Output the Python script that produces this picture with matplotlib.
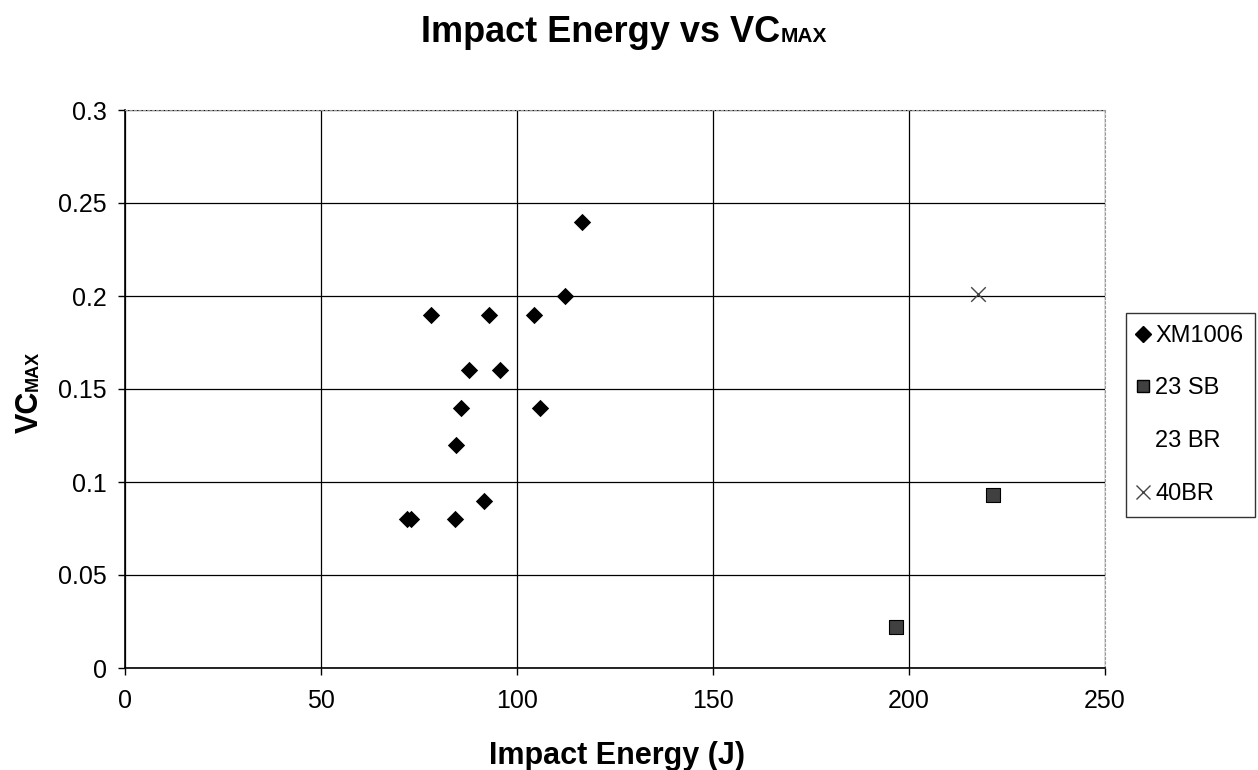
import matplotlib
matplotlib.use("Agg")
import matplotlib.pyplot as plt
from matplotlib.lines import Line2D

# ---- data ----
xm1006_x = [116.6, 112.2, 78.1, 92.9, 104.3, 87.8, 95.7, 85.7, 105.9, 84.4, 91.6, 72.0, 73.0, 84.2]
xm1006_y = [0.240, 0.200, 0.190, 0.190, 0.190, 0.160, 0.160, 0.140, 0.140, 0.120, 0.090, 0.080, 0.080, 0.080]
sb23_x = [196.7, 221.4]
sb23_y = [0.022, 0.093]
br23_x = []
br23_y = []
br40_x = [217.6]
br40_y = [0.201]
x_ticks = [0, 50, 100, 150, 200, 250]
y_ticks = [0, 0.05, 0.1, 0.15, 0.2, 0.25, 0.3]
y_tick_labels = ["0", "0.05", "0.1", "0.15", "0.2", "0.25", "0.3"]

FONT = "Liberation Sans"
plt.rcParams['font.family'] = [FONT, 'DejaVu Sans']

W, H = 1258, 770
fig = plt.figure(figsize=(W / 100, H / 100), dpi=100)
ax = fig.add_axes([125 / W, 1 - 668 / H, 980 / W, 558 / H])

ax.scatter(xm1006_x, xm1006_y, marker='D', s=78, color='black', zorder=3, linewidths=0)
ax.scatter(sb23_x, sb23_y, marker='s', s=105, color='#404040', edgecolors='black', linewidths=0.8, zorder=3)
ax.scatter(br23_x, br23_y, marker='^', s=80, color='white', zorder=3)
ax.scatter(br40_x, br40_y, marker='x', s=110, color='#444444', linewidths=1.0, zorder=3)

ax.set_xlim(0, 250)
ax.set_ylim(0, 0.3)
ax.set_xticks(x_ticks)
ax.set_xticklabels([str(t) for t in x_ticks], fontsize=18)
ax.set_yticks(y_ticks)
ax.set_yticklabels(y_tick_labels, fontsize=18)
ax.tick_params(axis='both', direction='out', length=5, width=1, color='black')
ax.tick_params(axis='x', pad=10)
ax.tick_params(axis='y', pad=8)
ax.grid(True, color='black', linewidth=0.9)
ax.set_axisbelow(True)
for s in ['left', 'bottom']:
    ax.spines[s].set_color('black')
    ax.spines[s].set_linewidth(1.2)
for s in ['top', 'right']:
    ax.spines[s].set_color('#999999')
    ax.spines[s].set_linewidth(0.8)
    ax.spines[s].set_linestyle((0, (2, 2)))

# legend
handles = [
    Line2D([], [], marker='D', color='black', linestyle='none', markersize=8),
    Line2D([], [], marker='s', color='#404040', markeredgecolor='black', linestyle='none', markersize=9),
    Line2D([], [], marker='^', color='white', markeredgecolor='white', linestyle='none', markersize=8),
    Line2D([], [], marker='x', color='#444444', linestyle='none', markersize=10, markeredgewidth=1.0),
]
labels = ["XM1006", "23 SB", "23 BR", "40BR"]
leg = fig.legend(handles, labels, loc='upper left', bbox_to_anchor=(1126 / W, 1 - 313 / H),
                 frameon=True, fancybox=False, edgecolor='black', fontsize=17,
                 handlelength=0.45, handletextpad=0.28, borderpad=0.5, labelspacing=1.3,
                 borderaxespad=0)
leg.get_frame().set_linewidth(1.0)

fig.canvas.draw()
r = fig.canvas.get_renderer()

def px_to_fig(x, y):
    return x / W, 1 - y / H

# Title: "Impact Energy vs VC" + small caps "MAX"
t1 = fig.text(0, 0, "Impact Energy vs VC", fontsize=26, fontweight='bold', ha='left', va='baseline')
t2 = fig.text(0, 0, "MAX", fontsize=15, fontweight='bold', ha='left', va='baseline')
w1 = t1.get_window_extent(r).width
w2 = t2.get_window_extent(r).width
total = w1 + w2
x0 = 624 - total / 2
t1.set_position(px_to_fig(x0, 42))
t2.set_position(px_to_fig(x0 + w1, 42))

# x label
fig.text(*px_to_fig(617, 764), "Impact Energy (J)", fontsize=22, fontweight='bold', ha='center', va='baseline')

# y label rotated, "VC" + "MAX"
y1 = fig.text(0, 0, "VC", fontsize=22, fontweight='bold', rotation=90, rotation_mode='anchor', ha='left', va='baseline')
y2 = fig.text(0, 0, "MAX", fontsize=13, fontweight='bold', rotation=90, rotation_mode='anchor', ha='left', va='baseline')
h1 = y1.get_window_extent(r).height
h2 = y2.get_window_extent(r).height
ystart = 392 + (h1 + h2) / 2
y1.set_position(px_to_fig(38, ystart))
y2.set_position(px_to_fig(38, ystart - h1))

fig.savefig("out.png", dpi=100)
